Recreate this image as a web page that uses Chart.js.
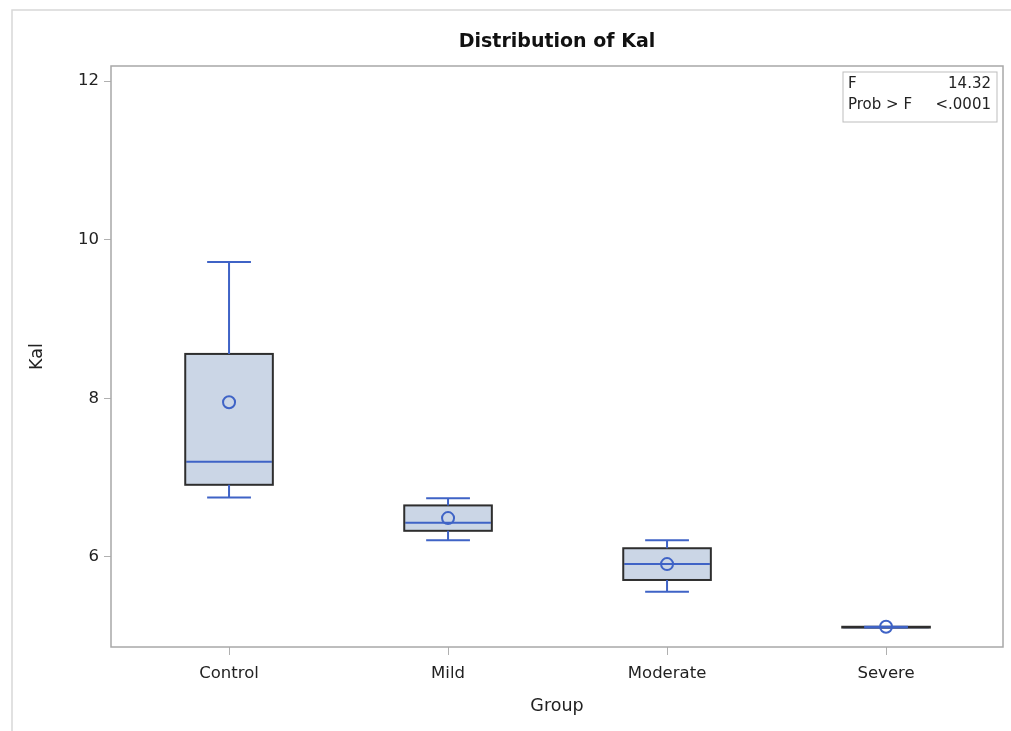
<!DOCTYPE html>
<html>
<head>
<meta charset="utf-8">
<script src="https://cdn.jsdelivr.net/npm/chart.js@4.4.0/dist/chart.umd.min.js"></script>
<style>
  html, body { margin: 0; padding: 0; background: #fff; }
  #wrap { width: 1011px; height: 731px; }
</style>
</head>
<body>
<div id="wrap"><canvas id="boxChart" width="1011" height="731"></canvas></div>
<script>
// values
const groups = ['Control', 'Mild', 'Moderate', 'Severe'];
const whiskerLow = [6.75, 6.21, 5.56, 5.11];
const q1 = [6.91, 6.33, 5.71, 5.11];
const median = [7.20, 6.43, 5.91, 5.115];
const q3 = [8.56, 6.65, 6.11, 5.12];
const whiskerHigh = [9.72, 6.74, 6.21, 5.12];
const means = [7.95, 6.49, 5.91, 5.12];
const yTicks = [6, 8, 10, 12];
const chartTitle = 'Distribution of Kal';
const statLabels = ['F', 'Prob > F'];
const statValues = ['14.32', '<.0001'];

const fontFamily = "'DejaVu Sans', 'Liberation Sans', Arial, sans-serif";
const blue = '#3f63c6';
const boxLine = '#2e2e2e';

// median, box outline, whiskers drawn right after the box fills
const boxExtras = {
     id: 'boxExtras',
     afterDatasetDraw(chart, args) {
          if (args.index !== 0) return;
          const { ctx, scales: { x, y } } = chart;
          const bars = chart.getDatasetMeta(0).data;
          ctx.save();
          ctx.lineWidth = 2;
          groups.forEach((g, i) => {
               const cx = x.getPixelForValue(i + 1);
               const bar = bars[i];
               const w = bar.width;
               const cap = w / 4;

               // median
               ctx.strokeStyle = blue;
               ctx.beginPath();
               ctx.moveTo(cx - w / 2 + 1, y.getPixelForValue(median[i]));
               ctx.lineTo(cx + w / 2 - 1, y.getPixelForValue(median[i]));
               ctx.stroke();

               // box outline
               ctx.strokeStyle = boxLine;
               const top = Math.min(bar.y, bar.base), bot = Math.max(bar.y, bar.base);
               ctx.strokeRect(cx - w / 2, top, w, bot - top);

               // whiskers
               ctx.strokeStyle = blue;
               ctx.beginPath();
               ctx.moveTo(cx, y.getPixelForValue(q3[i]));
               ctx.lineTo(cx, y.getPixelForValue(whiskerHigh[i]));
               ctx.moveTo(cx - cap, y.getPixelForValue(whiskerHigh[i]));
               ctx.lineTo(cx + cap, y.getPixelForValue(whiskerHigh[i]));
               ctx.moveTo(cx, y.getPixelForValue(q1[i]));
               ctx.lineTo(cx, y.getPixelForValue(whiskerLow[i]));
               ctx.moveTo(cx - cap, y.getPixelForValue(whiskerLow[i]));
               ctx.lineTo(cx + cap, y.getPixelForValue(whiskerLow[i]));
               ctx.stroke();
          });
          ctx.restore();
     }
};

const frame = {
     id: 'frame',
     beforeDraw(chart) {
          const { ctx } = chart;
          ctx.save();
          ctx.fillStyle = '#fff';
          ctx.fillRect(0, 0, chart.width, chart.height);
          // outer light border of the graph image
          ctx.strokeStyle = '#d8d8d8';
          ctx.lineWidth = 1.5;
          ctx.beginPath();
          ctx.moveTo(12, chart.height);
          ctx.lineTo(12, 10);
          ctx.lineTo(chart.width, 10);
          ctx.stroke();
          ctx.restore();
     },
     afterDraw(chart) {
          const { ctx, chartArea: a } = chart;
          ctx.save();
          ctx.strokeStyle = '#a8a8a8';
          ctx.lineWidth = 1.5;
          ctx.strokeRect(a.left, a.top, a.right - a.left, a.bottom - a.top);

          // title, centred over the plot area
          ctx.fillStyle = '#111';
          ctx.font = `bold 19px ${fontFamily}`;
          ctx.textAlign = 'center';
          ctx.textBaseline = 'middle';
          ctx.fillText(chartTitle, (a.left + a.right) / 2, 42);

          // F statistic inset
          const bx = a.right - 160, by = a.top + 6, bw = 154, bh = 50;
          ctx.strokeStyle = '#bdbdbd';
          ctx.lineWidth = 1;
          ctx.strokeRect(bx, by, bw, bh);
          ctx.fillStyle = '#222';
          ctx.font = `15px ${fontFamily}`;
          statLabels.forEach((lbl, i) => {
               const ty = by + 12 + i * 21;
               ctx.textAlign = 'left';
               ctx.fillText(lbl, bx + 5, ty);
               ctx.textAlign = 'right';
               ctx.fillText(statValues[i], bx + bw - 6, ty);
          });
          ctx.restore();
     }
};

const ctx = document.getElementById('boxChart').getContext('2d');
new Chart(ctx, {
     type: 'bar',
     data: {
          datasets: [
               {
                    label: 'Box',
                    data: groups.map((g, i) => ({ x: i + 1, y: [q1[i], q3[i]] })),
                    backgroundColor: '#cbd6e6',
                    borderWidth: 0,
                    barPercentage: 0.4,
                    categoryPercentage: 1,
                    order: 2
               },
               {
                    type: 'scatter',
                    label: 'Mean',
                    data: groups.map((g, i) => ({ x: i + 1, y: means[i] })),
                    pointStyle: 'circle',
                    pointRadius: 6,
                    borderColor: blue,
                    borderWidth: 2,
                    backgroundColor: 'rgba(0,0,0,0)',
                    order: 1
               }
          ]
     },
     options: {
          responsive: false,
          animation: false,
          layout: { padding: { left: 14, right: 8, top: 66, bottom: 0 } },
          plugins: {
               legend: { display: false },
               tooltip: { enabled: false },
               title: { display: false }
          },
          scales: {
               x: {
                    type: 'linear',
                    offset: false,
                    min: 0.461,
                    max: 4.534,
                    afterBuildTicks: (scale) => { scale.ticks = groups.map((g, i) => ({ value: i + 1 })); },
                    afterFit: (scale) => { scale.height = 84; },
                    ticks: {
                         callback: (v) => groups[v - 1],
                         color: '#222',
                         font: { family: fontFamily, size: 16.5 },
                         padding: 9,
                         maxRotation: 0
                    },
                    grid: { offset: false, drawOnChartArea: false, drawTicks: true, tickLength: 8, color: '#b0b0b0' },
                    border: { display: false },
                    title: {
                         display: true,
                         text: 'Group',
                         color: '#222',
                         font: { family: fontFamily, size: 17.5 },
                         padding: { top: 4, bottom: 14 }
                    }
               },
               y: {
                    min: 4.865,
                    max: 12.19,
                    afterBuildTicks: (scale) => { scale.ticks = yTicks.map(v => ({ value: v })); },
                    afterFit: (scale) => { scale.width = 97; },
                    ticks: {
                         color: '#222',
                         font: { family: fontFamily, size: 16.5 },
                         padding: 5
                    },
                    grid: { drawOnChartArea: false, drawTicks: true, tickLength: 7, color: '#b0b0b0' },
                    border: { display: false },
                    title: {
                         display: true,
                         text: 'Kal',
                         color: '#222',
                         font: { family: fontFamily, size: 17.5 },
                         padding: { top: 13, bottom: 0 }
                    }
               }
          }
     },
     plugins: [frame, boxExtras]
});
</script>
</body>
</html>
